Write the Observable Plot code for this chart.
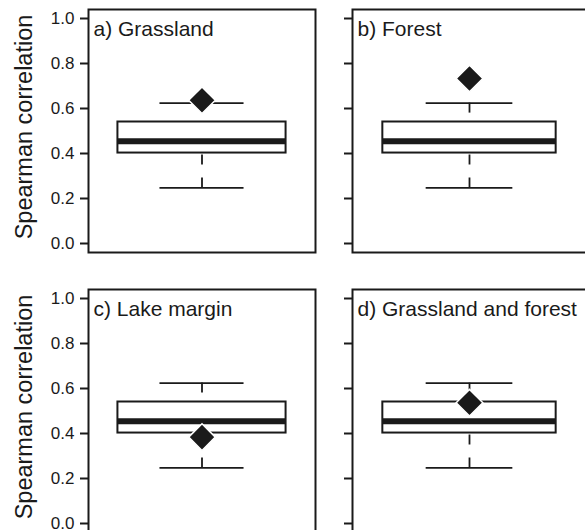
<!DOCTYPE html>
<html>
<head>
<meta charset="utf-8">
<script src="https://cdn.jsdelivr.net/npm/d3@7"></script>
<script src="https://cdn.jsdelivr.net/npm/@observablehq/plot@0.6"></script>
<style>
  html, body { margin: 0; padding: 0; background: #fff; overflow: hidden; }
  #chart { position: relative; width: 585px; height: 530px; overflow: hidden; background: #fff; }
  #chart > svg { position: absolute; }
  #chart g[aria-label="y-axis tick label"] text { font-size: 17px; }
</style>
</head>
<body>
<div id="chart"></div>
<script>
// ---- data ----
const panels      = ["a) Grassland", "b) Forest", "c) Lake margin", "d) Grassland and forest"];
const whiskerLow  = [0.247, 0.247, 0.247, 0.247];
const quartile1   = [0.402, 0.402, 0.402, 0.402];
const medians     = [0.454, 0.454, 0.454, 0.454];
const quartile3   = [0.540, 0.540, 0.540, 0.540];
const whiskerHigh = [0.624, 0.624, 0.624, 0.624];
const observed    = [0.637, 0.733, 0.384, 0.537];
const yTicks      = [0, 0.2, 0.4, 0.6, 0.8, 1.0];
const yLabel      = "Spearman correlation";

const rows = panels.map((p, i) => ({
  panel: p, low: whiskerLow[i], q1: quartile1[i], median: medians[i],
  q3: quartile3[i], high: whiskerHigh[i], obs: observed[i]
}));

const ink = "#1a1a1a";
const font = "'Liberation Sans', Arial, Helvetica, sans-serif";

// panel layout: [left, top, marginLeft, plotWidth, showLabels]
const layout = [
  [0,   0,   88, 227, true],
  [290, 0,   62, 234, false],
  [0,   280, 88, 227, true],
  [290, 280, 62, 234, false]
];

const container = document.getElementById("chart");

rows.forEach((d, i) => {
  const [left, top, mL, pw, showLabels] = layout[i];
  const data = [d];
  const marks = [
    Plot.ruleX(data, {x: 1, y1: "high", y2: "q3", stroke: ink, strokeWidth: 1.8, strokeDasharray: "10,13"}),
    Plot.ruleX(data, {x: 1, y1: "low", y2: "q1", stroke: ink, strokeWidth: 1.8, strokeDasharray: "10,13"}),
    Plot.ruleY(data, {y: "high", x1: 0.8, x2: 1.2, stroke: ink, strokeWidth: 1.8}),
    Plot.ruleY(data, {y: "low", x1: 0.8, x2: 1.2, stroke: ink, strokeWidth: 1.8}),
    Plot.rect(data, {x1: 0.6, x2: 1.4, y1: "q1", y2: "q3", fill: "white", stroke: ink, strokeWidth: 2}),
    Plot.ruleY(data, {y: "median", x1: 0.6, x2: 1.4, stroke: ink, strokeWidth: 6}),
    Plot.dot(data, {x: 1, y: "obs", symbol: "diamond2", r: 12, fill: ink, stroke: "white", strokeWidth: 1.5}),
    Plot.axisY(yTicks, {
      tickSize: 8, tickPadding: 6, stroke: ink, strokeWidth: 2,
      tickFormat: showLabels ? d3.format(".1f") : () => "",
      fontSize: 17, fill: ink, label: null
    }),
    Plot.frame({stroke: ink, strokeWidth: 2}),
    Plot.text(data, {text: "panel", frameAnchor: "top-left", lineAnchor: "top", textAnchor: "start",
      dx: 5, dy: 11.5, fontSize: 21, fill: ink})
  ];
  if (showLabels) {
    marks.push(Plot.text([yLabel], {text: d => d, frameAnchor: "left", rotate: -90,
      textAnchor: "middle", lineAnchor: "middle", dx: -64, dy: -4, fontSize: 23.5, fill: ink}));
  }
  const svg = Plot.plot({
    width: mL + pw + 2,
    height: 9 + 243 + 2,
    marginLeft: mL, marginRight: 2, marginTop: 9, marginBottom: 2,
    style: {fontFamily: font, fontSize: "17px", background: "transparent", overflow: "visible"},
    x: {domain: [0.46, 1.54], axis: null},
    y: {domain: [-0.04, 1.04], axis: null},
    marks
  });
  svg.style.left = left + "px";
  svg.style.top = top + "px";
  container.appendChild(svg);
});
</script>
</body>
</html>
